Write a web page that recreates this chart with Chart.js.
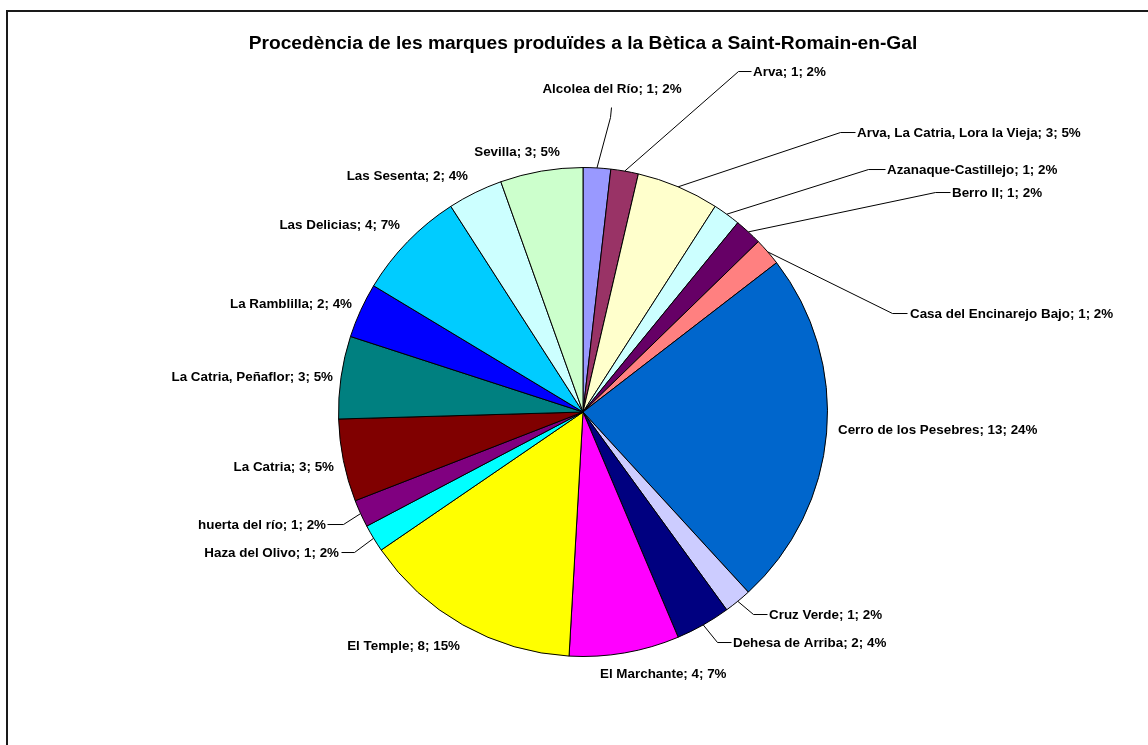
<!DOCTYPE html>
<html>
<head>
<meta charset="utf-8">
<title>Procedència de les marques</title>
<script src="https://cdn.jsdelivr.net/npm/chart.js@4/dist/chart.umd.min.js"></script>
<style>
  html, body { margin: 0; padding: 0; background: #fff; }
  #wrap { position: relative; width: 1148px; height: 745px; }
</style>
</head>
<body>
<div id="wrap"><canvas id="pie" width="1148" height="745"></canvas></div>
<script>
// jaciments de procedència i nombre de marques
var llocs = [
  'Alcolea del Río', 'Arva', 'Arva, La Catria, Lora la Vieja', 'Azanaque-Castillejo',
  'Berro II', 'Casa del Encinarejo Bajo', 'Cerro de los Pesebres', 'Cruz Verde',
  'Dehesa de Arriba', 'El Marchante', 'El Temple', 'Haza del Olivo', 'huerta del río',
  'La Catria', 'La Catria, Peñaflor', 'La Ramblilla', 'Las Delicias', 'Las Sesenta', 'Sevilla'
];
var marques = [1, 1, 3, 1, 1, 1, 13, 1, 2, 4, 8, 1, 1, 3, 3, 2, 4, 2, 3];

var colors = [
  '#9999FF', '#993366', '#FFFFCC', '#CCFFFF', '#660066', '#FF8080', '#0066CC', '#CCCCFF',
  '#000080', '#FF00FF', '#FFFF00', '#00FFFF', '#800080', '#800000', '#008080', '#0000FF',
  '#00CCFF', '#CCFFFF', '#CCFFCC'
];

// posicio de cada etiqueta respecte al centre del pastis (text + linia guia)
var etiq = [
  { align: 'center', dx: 29,   dy: -324, elbow: [27, -295],  end: [28, -305] },
  { align: 'left',   dx: 170,  dy: -341, elbow: [155, -341], end: [168, -341] },
  { align: 'left',   dx: 274,  dy: -280, elbow: [257, -280], end: [272, -280] },
  { align: 'left',   dx: 304,  dy: -243, elbow: [285, -243], end: [302, -243] },
  { align: 'left',   dx: 369,  dy: -220, elbow: [352, -220], end: [367, -220] },
  { align: 'left',   dx: 327,  dy: -99,  elbow: [309, -99],  end: [324, -99] },
  { align: 'left',   dx: 255,  dy: 17 },
  { align: 'left',   dx: 186,  dy: 202,  elbow: [170, 202],  end: [184, 202] },
  { align: 'left',   dx: 150,  dy: 230,  elbow: [134, 230],  end: [148, 230] },
  { align: 'left',   dx: 17,   dy: 261 },
  { align: 'right',  dx: -123, dy: 233 },
  { align: 'right',  dx: -244, dy: 140,  elbow: [-229, 140], end: [-242, 140] },
  { align: 'right',  dx: -257, dy: 112,  elbow: [-240, 112], end: [-256, 112] },
  { align: 'right',  dx: -249, dy: 54 },
  { align: 'right',  dx: -250, dy: -36 },
  { align: 'right',  dx: -231, dy: -109 },
  { align: 'right',  dx: -183, dy: -188 },
  { align: 'right',  dx: -115, dy: -237 },
  { align: 'center', dx: -66,  dy: -261 }
];

var total = marques.reduce(function(a, b){ return a + b; }, 0);

// marc del grafic
var marcPlugin = {
  id: 'marc',
  beforeDraw: function(chart){
    var ctx = chart.ctx;
    ctx.save();
    ctx.fillStyle = '#fff';
    ctx.fillRect(0, 0, chart.width, chart.height);
    ctx.fillStyle = '#1a1a1a';
    ctx.fillRect(6, 10, chart.width - 6, 2);
    ctx.fillRect(6, 10, 2, chart.height - 10);
    ctx.restore();
  }
};

// etiquetes "nom; valor; %" amb linies guia
var etiquetesPlugin = {
  id: 'etiquetes',
  afterDatasetsDraw: function(chart){
    var ctx = chart.ctx;
    var meta = chart.getDatasetMeta(0);
    ctx.save();
    ctx.font = 'bold 13.4px "Liberation Sans", Arial, sans-serif';
    ctx.textBaseline = 'middle';
    ctx.fillStyle = '#000';
    ctx.strokeStyle = '#000';
    ctx.lineWidth = 1;
    meta.data.forEach(function(arc, i){
      var p = arc.getProps(['x', 'y', 'startAngle', 'endAngle', 'outerRadius'], true);
      var e = etiq[i];
      var mid = (p.startAngle + p.endAngle) / 2;
      if (e.elbow) {
        var sx = p.x + Math.cos(mid) * p.outerRadius;
        var sy = p.y + Math.sin(mid) * p.outerRadius;
        ctx.beginPath();
        ctx.moveTo(sx, sy);
        ctx.lineTo(p.x + e.elbow[0] + 0.5, p.y + e.elbow[1] + 0.5);
        ctx.lineTo(p.x + e.end[0] + 0.5, p.y + e.end[1] + 0.5);
        ctx.stroke();
      }
      var pct = Math.round(marques[i] / total * 100);
      var txt = llocs[i] + '; ' + marques[i] + '; ' + pct + '%';
      ctx.textAlign = e.align;
      ctx.fillText(txt, p.x + e.dx, p.y + e.dy + 1.5);
    });
    ctx.restore();
  }
};

new Chart(document.getElementById('pie'), {
  type: 'pie',
  data: {
    labels: llocs,
    datasets: [{
      data: marques,
      backgroundColor: colors,
      borderColor: '#000',
      borderWidth: 1
    }]
  },
  options: {
    responsive: false,
    animation: false,
    events: [],
    layout: { padding: { top: 0, bottom: 88, left: 200, right: 182 } },
    plugins: {
      legend: { display: false },
      tooltip: { enabled: false },
      title: {
        display: true,
        text: 'Procedència de les marques produïdes a la Bètica a Saint-Romain-en-Gal',
        color: '#000',
        font: { family: '"Liberation Sans", Arial, sans-serif', size: 19.2, weight: 'bold' },
        padding: { top: 32, bottom: 112 }
      }
    }
  },
  plugins: [marcPlugin, etiquetesPlugin]
});
</script>
</body>
</html>
